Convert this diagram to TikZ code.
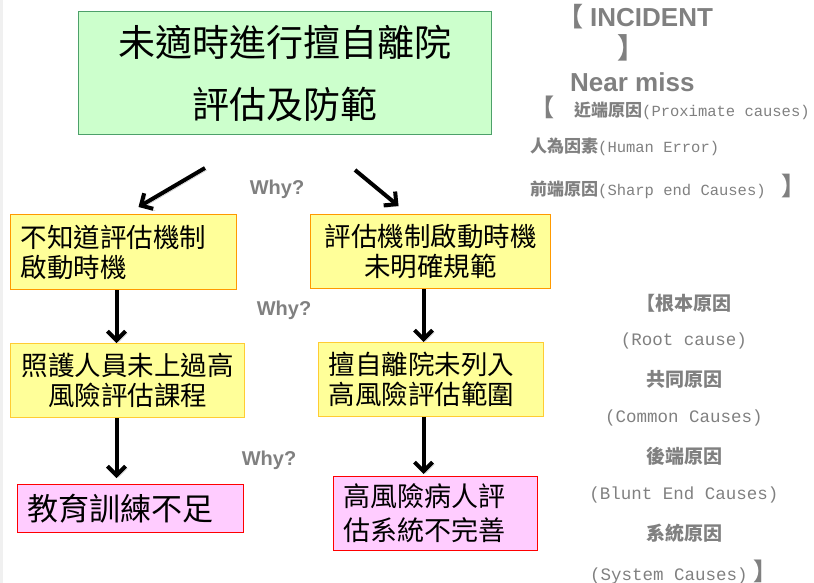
\documentclass[tikz,border=0pt]{standalone}
\usepackage{fontspec}
\setmainfont{Noto Sans CJK TC}
\setsansfont{Liberation Sans}
\newfontfamily\mono{Liberation Mono}
\usetikzlibrary{arrows.meta,positioning}
\definecolor{goalfill}{HTML}{CCFFCC}
\definecolor{goalline}{HTML}{4DA06A}
\definecolor{whyfill}{HTML}{FFFF99}
\definecolor{whyline}{HTML}{FF9900}
\definecolor{whyline2}{HTML}{FFCC33}
\definecolor{endfill}{HTML}{FFCCFF}
\definecolor{endline}{HTML}{FF0000}
\definecolor{notegray}{HTML}{808080}

\begin{document}
\begin{tikzpicture}[x=1pt,y=-1pt,
    box/.style={draw, line width=1pt, inner xsep=10pt, inner ysep=0pt, anchor=north west},
    goal/.style={box, fill=goalfill, draw=goalline, align=center, minimum width=413pt, minimum height=123pt, font=\fontsize{37}{62}\selectfont},
    why/.style={box, fill=whyfill, draw=whyline, minimum height=74pt, font=\fontsize{26.5}{30}\selectfont},
    result/.style={box, fill=endfill, draw=endline},
    ask/.style={text=notegray, font=\sffamily\bfseries\fontsize{20}{20}\selectfont},
    note/.style={text=notegray, anchor=base west, inner sep=0pt},
    cjknote/.style={text=notegray, font=\bfseries\fontsize{19}{19}\selectfont},
    mononote/.style={text=notegray, font=\mono\fontsize{17.5}{17.5}\selectfont},
    bigarrow/.style={line width=4pt, -{Straight Barb[length=9pt,width=18pt]},
        preaction={draw=gray!50, transform canvas={shift={(2pt,-2pt)}}}}
]
\useasboundingbox (0,0) rectangle (814,583);
\fill[gray!12] (0,0) rectangle (3,583);

\node[goal] (goal) at (78,11) {未適時進行擅自離院\\評估及防範};

\node[why, minimum height=75pt, text width=206pt, align=left] (l1) at (10,214) {不知道評估機制\\啟動時機};
\node[why, text width=220pt, align=center] (r1) at (310,214) {評估機制啟動時機\\未明確規範};
\node[why, draw=whyline2, text width=214pt, align=center] (l2) at (10,343) {照護人員未上過高\\風險評估課程};
\node[why, draw=whyline2, text width=205pt, align=left] (r2) at (318,342) {擅自離院未列入\\高風險評估範圍};
\node[result, minimum height=48pt, text width=206pt, align=left, font=\fontsize{31}{34}\selectfont] (l3) at (17,484) {教育訓練不足};
\node[result, minimum height=74pt, text width=184pt, align=left, font=\fontsize{27}{34}\selectfont] (r3) at (333,476) {高風險病人評\\估系統不完善};

\coordinate (lfrom) at (205,168);
\coordinate (rfrom) at (355,170);
\draw[bigarrow] (lfrom) -- ([xshift=15pt,yshift=7pt]l1.north);
\draw[bigarrow] (rfrom) -- ([xshift=-32pt,yshift=8pt]r1.north);
\draw[bigarrow] ([xshift=-7pt]l1.south) -- ([xshift=-11pt]l2.north);
\draw[bigarrow, shorten >=6pt] ([xshift=-11pt]l2.south) -- ([xshift=-14pt]l3.north);
\draw[bigarrow] ([xshift=-7pt]r1.south) -- ([xshift=-7.5pt]r2.north);
\draw[bigarrow, shorten >=2pt] ([xshift=-7.5pt]r2.south) -- ([xshift=-12pt]r3.north);

\node[ask] (why1) at (277,189) {Why?};
\node[ask] (why2) at (284,310) {Why?};
\node[ask] (why3) at (269,460) {Why?};

\node[note, font=\sffamily\bfseries\fontsize{26}{26}\selectfont] (incident) at (557,27) {{\rmfamily 【}\hspace{7pt}INCIDENT};
\node[note, font=\bfseries\fontsize{28}{28}\selectfont] (close) at (617,59) {】};
\node[note, font=\sffamily\bfseries\fontsize{26}{26}\selectfont] (nearmiss) at (570,92) {Near miss};
\node[note, font=\fontsize{17}{17}\selectfont] (proximate) at (530,117) {{\bfseries\fontsize{24}{24}\selectfont 【}\hspace{20pt}{\bfseries 近端原因}{\mono\fontsize{15.5}{15.5}\selectfont (Proximate causes)}};
\node[note, font=\fontsize{17}{17}\selectfont] (human) at (530,153) {{\bfseries 人為因素}{\mono\fontsize{15.5}{15.5}\selectfont (Human Error)}};
\node[note, font=\fontsize{17}{17}\selectfont] (sharp) at (530,196) {{\bfseries 前端原因}{\mono\fontsize{15.5}{15.5}\selectfont (Sharp end Causes)}\hspace{16pt}{\bfseries\fontsize{25}{25}\selectfont 】}};

\foreach \t/\s [count=\i] in {{【根本原因}/cjknote, {(Root cause)}/mononote, {共同原因}/cjknote, {(Common Causes)}/mononote, {後端原因}/cjknote, {(Blunt End Causes)}/mononote, {系統原因}/cjknote, {(System Causes)\hspace{6pt}{\rmfamily\bfseries\fontsize{24}{24}\selectfont 】}}/mononote}
    \node[\s] (root\i) at (684,{303+38.4*(\i-1)}) {\t};
\end{tikzpicture}
\end{document}
